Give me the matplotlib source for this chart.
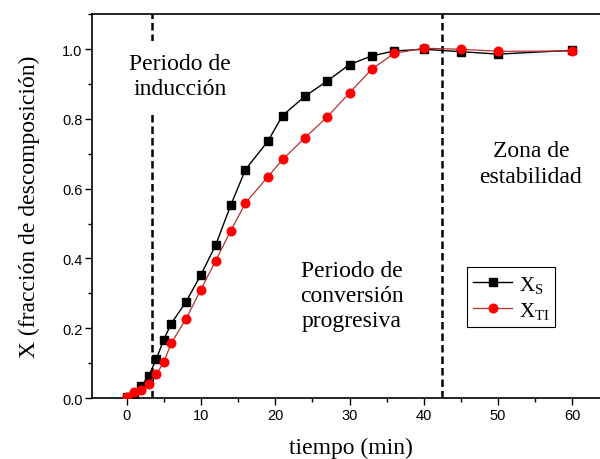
"""Decomposition fraction X vs time for Xs and XTI, with period annotations."""
import matplotlib
matplotlib.use('Agg')
import matplotlib.pyplot as plt
from matplotlib.ticker import MultipleLocator, FormatStrFormatter

plt.rcParams['font.family'] = 'Liberation Sans'
plt.rcParams['mathtext.fontset'] = 'custom'
plt.rcParams['mathtext.rm'] = 'Liberation Serif'
plt.rcParams['mathtext.it'] = 'Liberation Serif:italic'

# data
tiempo = [0, 1, 2, 3, 4, 5, 6, 8, 10, 12, 14, 16, 19, 21, 24, 27, 30, 33, 36, 40, 45, 50, 60]
x_s = [0.003, 0.01, 0.035, 0.064, 0.112, 0.167, 0.213, 0.276, 0.353, 0.439, 0.552, 0.655,
       0.736, 0.81, 0.865, 0.909, 0.956, 0.981, 0.995, 1.0, 0.993, 0.986, 0.997]
x_ti = [0.003, 0.016, 0.022, 0.04, 0.068, 0.102, 0.157, 0.227, 0.311, 0.394, 0.479, 0.559,
        0.634, 0.684, 0.746, 0.806, 0.875, 0.943, 0.988, 1.003, 1.0, 0.994, 0.995]
t_induccion = 3.4
t_estable = 42.5

serif = 'Liberation Serif'

fig = plt.figure(figsize=(6, 4.6), dpi=100)
ax = fig.add_axes([0.154, 0.1326, 0.862, 0.834])

ax.axvline(t_induccion, color='black', ls=(0, (3, 1.6)), lw=1.8, zorder=1)
ax.axvline(t_estable, color='black', ls=(0, (3, 1.6)), lw=1.8, zorder=1)

ax.plot(tiempo, x_s, color='black', lw=1.0, marker='s', ms=5.5, mfc='black', mec='black',
        label=r'X$_{\rm S}$', zorder=3)
ax.plot(tiempo, x_ti, color='#b83030', lw=0.9, marker='o', ms=6.2, mfc='red', mec='red',
        label=r'X$_{\rm TI}$', zorder=4)

ax.set_xlim(-4.6, 65)
ax.set_ylim(0, 1.1)
ax.xaxis.set_major_locator(MultipleLocator(10))
ax.xaxis.set_minor_locator(MultipleLocator(5))
ax.yaxis.set_major_locator(MultipleLocator(0.2))
ax.yaxis.set_minor_locator(MultipleLocator(0.1))
ax.yaxis.set_major_formatter(FormatStrFormatter('%.1f'))
ax.tick_params(which='major', direction='out', length=5, width=1, labelsize=10.5, pad=2)
ax.tick_params(which='minor', direction='out', length=3, width=1)
ax.tick_params(top=False, right=False, which='both')
for s in ax.spines.values():
    s.set_linewidth(1.2)

ax.set_xlabel('tiempo (min)', family=serif, fontsize=17, labelpad=11)
ax.set_ylabel('X (fracción de descomposición)', family=serif, fontsize=17, labelpad=16)

ax.text(7.2, 0.923, 'Periodo de\ninducción', family=serif, fontsize=17, ha='center', va='center',
        linespacing=1.25, zorder=2,
        bbox=dict(facecolor='white', edgecolor='none', pad=9))
ax.text(30.3, 0.293, 'Periodo de\nconversión\nprogresiva', family=serif, fontsize=17,
        ha='center', va='center', linespacing=1.25)
ax.text(54.4, 0.672, 'Zona de\nestabilidad', family=serif, fontsize=17, ha='center',
        va='center', linespacing=1.3)

leg = ax.legend(loc='upper left', bbox_to_anchor=(0.7235, 0.3407), borderaxespad=0,
                fancybox=False, edgecolor='black', framealpha=1,
                prop={'family': serif, 'size': 15},
                handlelength=1.9, handletextpad=0.3, labelspacing=0.25, borderpad=0.3)
leg.get_frame().set_linewidth(0.8)

fig.savefig('out.png', dpi=100)
